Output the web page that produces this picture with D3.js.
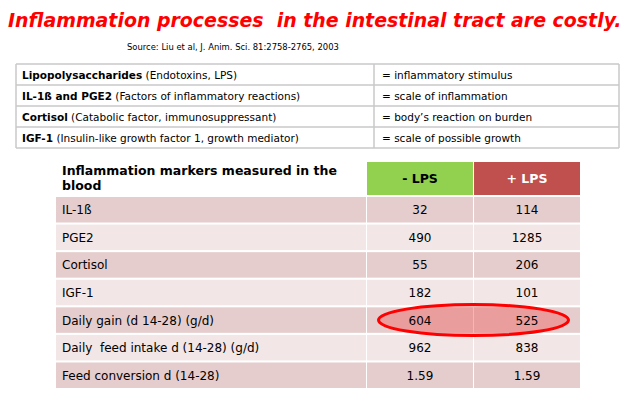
<!DOCTYPE html>
<html><head><meta charset="utf-8">
<script src="https://cdn.jsdelivr.net/npm/d3@7"></script>
<style>body{margin:0;background:#fff;} svg{display:block;} svg text{white-space:pre;}</style>
</head><body>
<script>
const title = "Inflammation processes  in the intestinal tract are costly.";
const source = "Source: Liu et al, J. Anim. Sci. 81:2758-2765, 2003";

const defTerms = ["Lipopolysaccharides", "IL-1ß and PGE2", "Cortisol", "IGF-1"];
const defNotes = [" (Endotoxins, LPS)", " (Factors of inflammatory reactions)", " (Catabolic factor, immunosuppressant)", " (Insulin-like growth factor 1, growth mediator)"];
const defMeanings = ["= inflammatory stimulus", "= scale of inflammation", "= body’s reaction on burden", "= scale of possible growth"];

const headerLabel = ["Inflammation markers measured in the", "blood"];
const groups = ["- LPS", "+ LPS"];
const markers = ["IL-1ß", "PGE2", "Cortisol", "IGF-1", "Daily gain (d 14-28) (g/d)", "Daily  feed intake d (14-28) (g/d)", "Feed conversion d (14-28)"];
const minusLPS = ["32", "490", "55", "182", "604", "962", "1.59"];
const plusLPS = ["114", "1285", "206", "101", "525", "838", "1.59"];
const highlighted = "Daily gain (d 14-28) (g/d)";

const W = 628, H = 405;
const font = "'DejaVu Sans', Verdana, sans-serif";
const svg = d3.select("body").append("svg").attr("width", W).attr("height", H);

// Title
const t = svg.append("text").attr("x", 8).attr("y", 27)
  .attr("font-family", font).attr("font-weight", "bold").attr("font-style", "italic")
  .attr("font-size", 20).attr("fill", "#FF0000").text(title);
const tw = t.node().getComputedTextLength();
t.attr("font-size", 20 * 614 / tw);

svg.append("text").attr("x", 127).attr("y", 50).attr("font-family", font)
  .attr("font-size", 10).attr("fill", "#000").text(source)
  .each(function(){ const w=this.getComputedTextLength(); d3.select(this).attr("font-size", 10*212/w); });

// Definitions table
const dy = d3.scaleBand().domain(d3.range(defTerms.length)).range([64, 148]);
const dx0 = 16, dx1 = 374, dx2 = 619;
const g1 = svg.append("g");
g1.selectAll("line.h").data(d3.range(defTerms.length + 1)).join("line")
  .attr("x1", dx0).attr("x2", dx2)
  .attr("y1", i => i < defTerms.length ? dy(i) : dy.range()[1])
  .attr("y2", i => i < defTerms.length ? dy(i) : dy.range()[1])
  .attr("stroke", "#C8C8C8").attr("stroke-width", 1.5);
[dx0, dx1, dx2].forEach(x => g1.append("line").attr("x1", x).attr("x2", x)
  .attr("y1", 64).attr("y2", 148).attr("stroke", "#C8C8C8").attr("stroke-width", 1.5));
defTerms.forEach((term, i) => {
  const tx = g1.append("text").attr("x", 22).attr("y", dy(i) + dy.bandwidth()/2 + 4)
    .attr("font-family", font).attr("font-size", 10.5).attr("fill", "#000");
  tx.append("tspan").attr("font-weight", "bold").text(term);
  tx.append("tspan").text(defNotes[i]);
  g1.append("text").attr("x", 382).attr("y", dy(i) + dy.bandwidth()/2 + 4)
    .attr("font-family", font).attr("font-size", 10.5).attr("fill", "#000").text(defMeanings[i]);
});

// Marker table
const labelX0 = 56, labelX1 = 366;
const cx = d3.scaleBand().domain(groups).range([367, 580]).paddingInner(0.01);
const ry = d3.scaleBand().domain(markers).range([197, 388]).paddingInner(0.075).paddingOuter(0);
const colors = {"- LPS": "#92D050", "+ LPS": "#C0504D"};
const textCol = {"- LPS": "#000", "+ LPS": "#fff"};
const gRows = svg.append("g");
const gMark = svg.append("g");
const gText = svg.append("g");

headerLabel.forEach((s, i) => gText.append("text").attr("x", 62).attr("y", 175 + i * 15)
  .attr("font-family", font).attr("font-weight", "bold").attr("font-size", 12.5).attr("fill", "#000").text(s));

gRows.selectAll("rect.hd").data(groups).join("rect")
  .attr("x", d => cx(d)).attr("y", 162).attr("width", cx.bandwidth()).attr("height", 33)
  .attr("fill", d => colors[d]);
gText.selectAll("text.hd").data(groups).join("text")
  .attr("x", d => cx(d) + cx.bandwidth()/2).attr("y", 183).attr("text-anchor", "middle")
  .attr("font-family", font).attr("font-weight", "bold").attr("font-size", 12.5)
  .attr("fill", d => textCol[d]).text(d => d);

const rowFill = (i) => i % 2 === 0 ? "#E6CDCD" : "#F2E6E6";
markers.forEach((m, i) => {
  const y = ry(m), h = ry.bandwidth();
  gRows.append("rect").attr("x", labelX0).attr("y", y).attr("width", labelX1 - labelX0).attr("height", h).attr("fill", rowFill(i));
  groups.forEach(gk => gRows.append("rect").attr("x", cx(gk)).attr("y", y).attr("width", cx.bandwidth()).attr("height", h).attr("fill", rowFill(i)));
  gText.append("text").attr("x", 62).attr("y", y + h/2 + 4.5).attr("font-family", font)
    .attr("font-size", 12).attr("fill", "#000").text(m);
  [[groups[0], minusLPS[i]], [groups[1], plusLPS[i]]].forEach(([gk, v]) =>
    gText.append("text").attr("x", cx(gk) + cx.bandwidth()/2).attr("y", y + h/2 + 4.5)
      .attr("text-anchor", "middle").attr("font-family", font).attr("font-size", 12)
      .attr("fill", "#000").text(v));
});

// Highlight ellipse
const hy = ry(highlighted) + ry.bandwidth()/2;
gMark.append("ellipse").attr("cx", (cx(groups[0]) + cx(groups[1]) + cx.bandwidth())/2).attr("cy", hy)
  .attr("rx", 95).attr("ry", 15.5).attr("fill", "rgba(235,110,110,0.5)")
  .attr("stroke", "#FF0000").attr("stroke-width", 3);
</script>
</body></html>
